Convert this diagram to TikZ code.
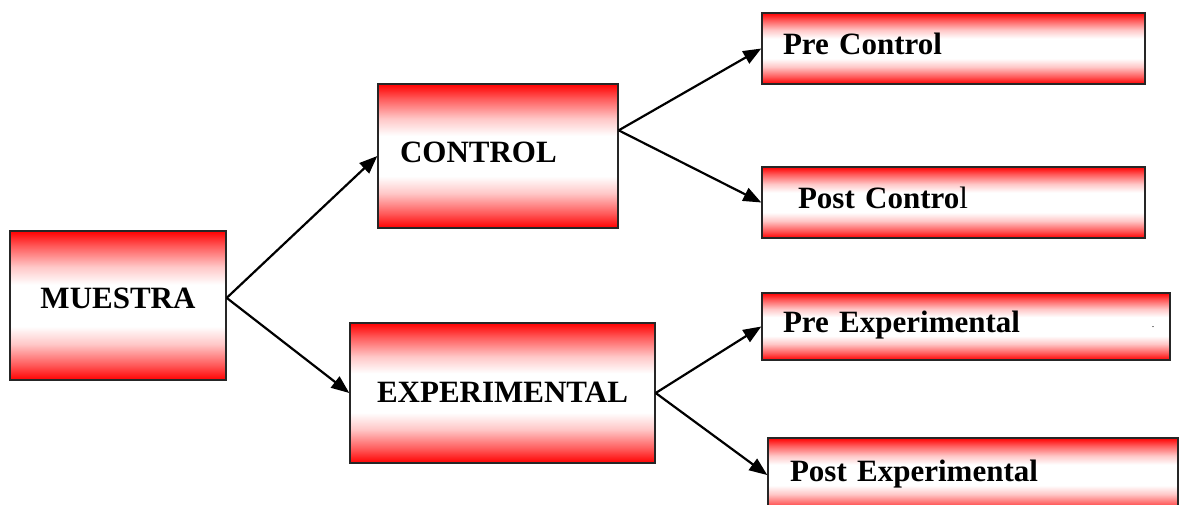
\documentclass[tikz,border=0pt]{standalone}
\usepackage{fontspec}
\setmainfont{Liberation Serif}
\usetikzlibrary{arrows.meta}
% red at the edges, white in the middle
\pgfdeclareverticalshading{redband}{100bp}{color(0bp)=(red); color(25bp)=(red); color(30bp)=(red!65); color(37bp)=(red!22); color(43bp)=(white); color(57bp)=(white); color(63bp)=(red!22); color(70bp)=(red!65); color(75bp)=(red); color(100bp)=(red)}
\tikzset{
        % Shaded boxes
        box/.style={rectangle, draw=black!85, line width=0.7pt, shading=redband, font=\fontsize{15.5}{18}\selectfont\bfseries, inner sep=0pt, text height=11pt, text depth=5pt},
        % Boxes with the text on the left
        box_left/.style={box, align=left},
        % Connectors
        link/.style={-{Triangle[length=9pt,width=7pt]}, line width=1.1pt}
}
\begin{document}
\begin{tikzpicture}[x=0.5pt, y=-0.5pt]
            \fill[white] (0,0) rectangle (1184,504);
            \clip (0,0) rectangle (1184,504);
            % first level
            \node[box, minimum width=108pt, minimum height=74.5pt, text depth=8pt] (muestra) at (118,305.5) {MUESTRA};
            % second level
            \node[box_left, minimum width=120pt, minimum height=72pt, text width=98pt, inner xsep=11pt] (control) at (498,156) {CONTROL};
            \node[box, minimum width=152.5pt, minimum height=70pt, text depth=2pt] (experimental) at (502.5,393) {EXPERIMENTAL};
            % third level
            \node[box_left, minimum width=191.5pt, minimum height=35.5pt, text width=170.5pt, inner xsep=10.5pt] (prectrl) at (953.5,48.5) {Pre Control};
            \node[box_left, minimum width=191.5pt, minimum height=35.5pt, text width=155.5pt, inner xsep=18pt] (postctrl) at (953.5,202.5) {Post Contro{\mdseries l}};
            \node[box_left, minimum width=204pt, minimum height=33.5pt, text width=183pt, inner xsep=10.5pt] (preexp) at (966,326.5) {Pre Experimental};
            \node[box_left, minimum width=205pt, minimum height=37pt, text width=183pt, inner xsep=11pt] (postexp) at (973,475) {Post Experimental};
            \node[font=\fontsize{5}{5}\selectfont, inner sep=0pt] (dot) at (1153,327) {.};
            % connectors
            \draw[link] (muestra.4) -- (control.west);
            \draw[link] (muestra.4) -- (experimental.west);
            \draw[link] (control.12) -- (prectrl.west);
            \draw[link] (control.12) -- (postctrl.west);
            \draw[link] (experimental.east) -- (preexp.west);
            \draw[link] (experimental.east) -- (postexp.west);
\end{tikzpicture}
\end{document}
